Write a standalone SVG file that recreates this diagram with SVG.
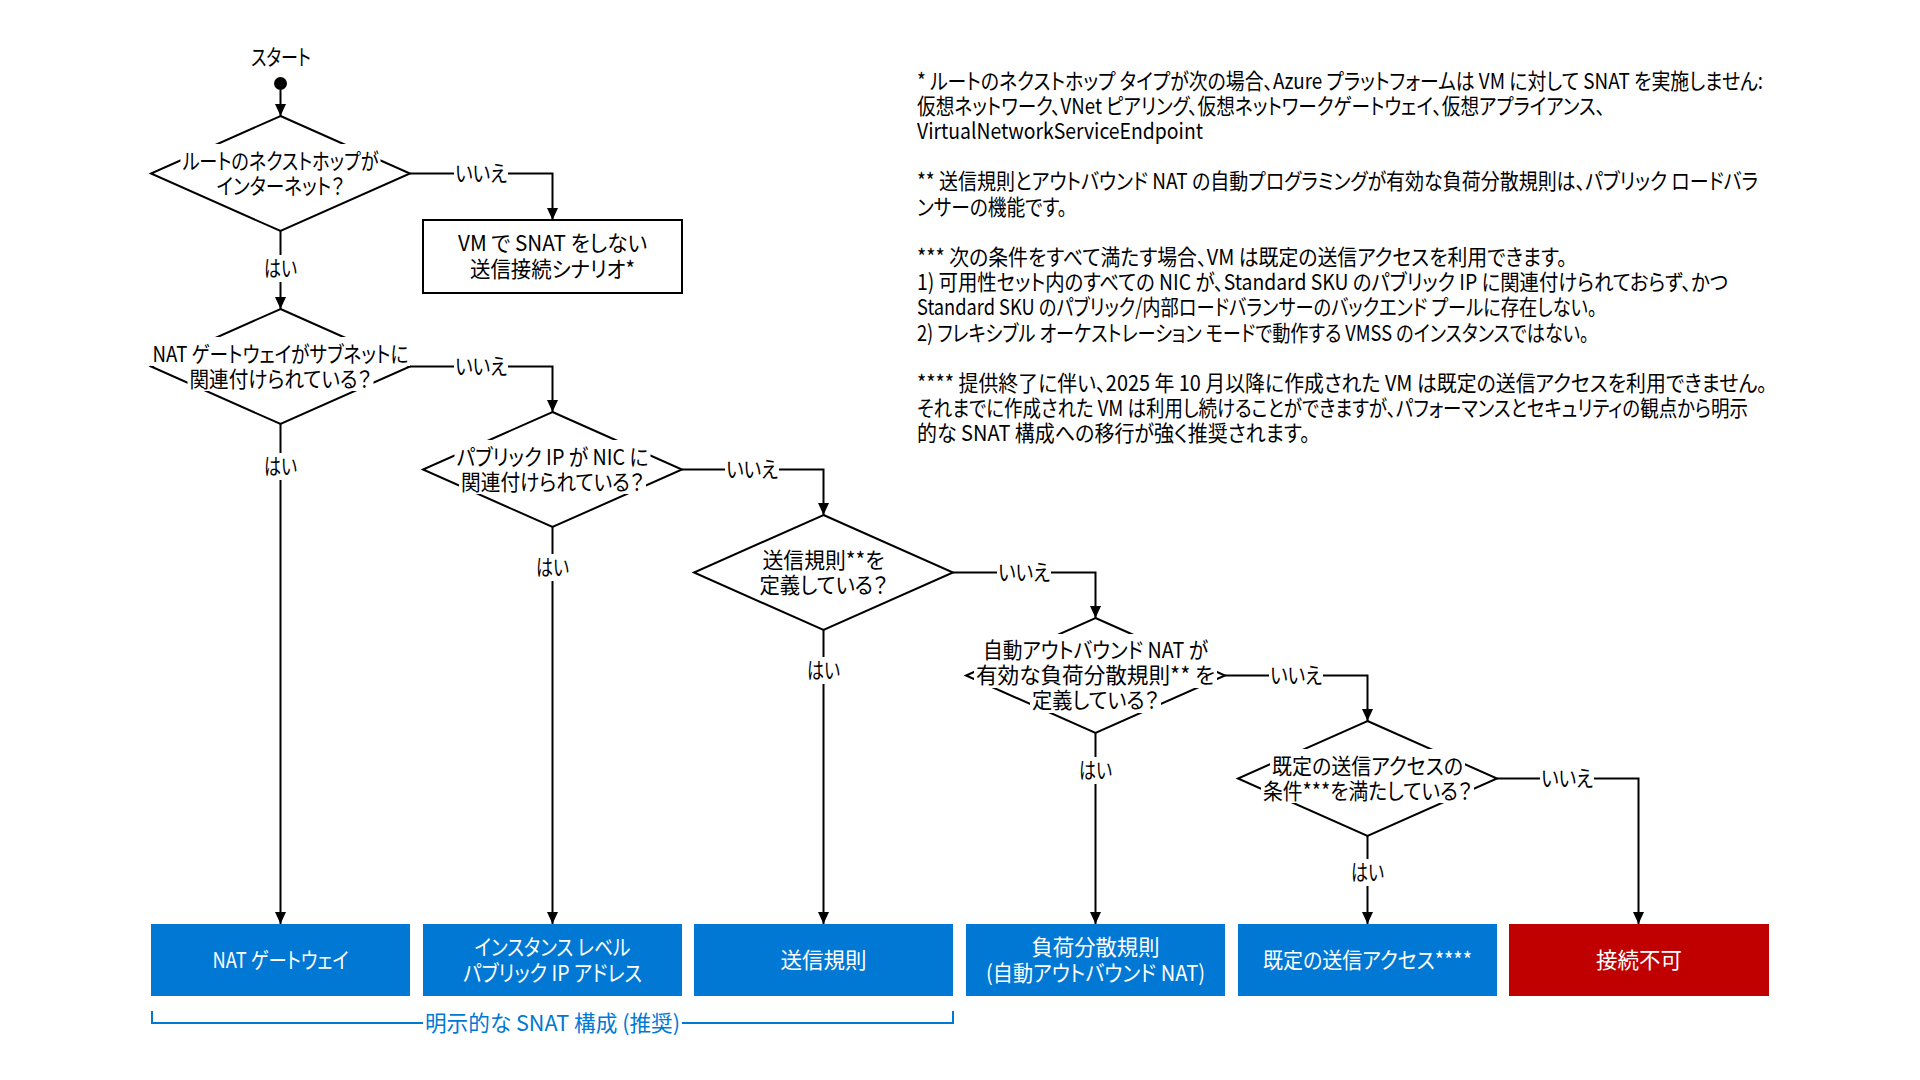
<svg xmlns="http://www.w3.org/2000/svg" width="1920" height="1080" viewBox="0 0 1920 1080">
  <style>
    text { font-family: "Noto Sans CJK JP", "Noto Sans", sans-serif; font-size: 22px; font-feature-settings: "palt" 1; fill: #000; }
    .c { text-anchor: middle; }
    .w { fill: #fff; }
    .note { text-anchor: start; }
    .diam { fill: #fff; stroke: #000; stroke-width: 2; stroke-linejoin: miter; }
    .bg { fill: #fff; stroke: none; }
    .plain { fill: #fff; stroke: #000; stroke-width: 2; }
    .blue { fill: #0078D4; }
    .red { fill: #C00000; }
    .conn { fill: none; stroke: #000; stroke-width: 2; marker-end: url(#arrow); }
    .brk { fill: none; stroke: #0078D4; stroke-width: 2; }
    .brklbl { fill: #0078D4; }
  </style>
  <defs>
    <marker id="arrow" markerUnits="userSpaceOnUse" markerWidth="12" markerHeight="12" viewBox="0 0 12 12" refX="12" refY="6" orient="auto">
      <path d="M0,0.5 L12,6 L0,11.5 z" fill="#000"/>
    </marker>
  </defs>

  <rect width="1920" height="1080" fill="#fff"/>

  <!-- start -->
  <g id="start">
    <text class="c" x="281" y="64.5" textLength="60" lengthAdjust="spacingAndGlyphs">スタート</text>
    <circle cx="280.5" cy="83.5" r="6.5" fill="#000"/>
  </g>

  <!-- decisions -->
  <g id="d1-next-hop">
    <polygon class="diam" points="280.5,116 410,173.5 280.5,231 151,173.5"/>
    <rect class="bg" x="180.5" y="144" width="200" height="29"/>
    <rect class="bg" x="214.5" y="169" width="132" height="29"/>
    <text class="c" x="280.5" y="168.5" textLength="196" lengthAdjust="spacingAndGlyphs">ルートのネクストホップが</text>
    <text class="c" x="280.5" y="193.5" textLength="128" lengthAdjust="spacingAndGlyphs">インターネット？</text>
  </g>

  <g id="d2-nat-gateway">
    <polygon class="diam" points="280.5,309 410,366.5 280.5,424 151,366.5"/>
    <rect class="bg" x="150.5" y="337" width="260" height="29"/>
    <rect class="bg" x="187.5" y="362" width="186" height="29"/>
    <text class="c" x="280.5" y="361.5" textLength="256" lengthAdjust="spacingAndGlyphs">NAT ゲートウェイがサブネットに</text>
    <text class="c" x="280.5" y="386.5" textLength="182" lengthAdjust="spacingAndGlyphs">関連付けられている？</text>
  </g>

  <g id="d3-public-ip">
    <polygon class="diam" points="552.5,412 682,469.5 552.5,527 423,469.5"/>
    <rect class="bg" x="454.5" y="440" width="196" height="29"/>
    <rect class="bg" x="459" y="465" width="187" height="29"/>
    <text class="c" x="552.5" y="464.5" textLength="192" lengthAdjust="spacingAndGlyphs">パブリック IP が NIC に</text>
    <text class="c" x="552.5" y="489.5" textLength="183" lengthAdjust="spacingAndGlyphs">関連付けられている？</text>
  </g>

  <g id="d4-outbound-rule">
    <polygon class="diam" points="823.5,515 953,572.5 823.5,630 694,572.5"/>
    <text class="c" x="823.5" y="567.5" textLength="122" lengthAdjust="spacingAndGlyphs">送信規則**を</text>
    <text class="c" x="823.5" y="592.5" textLength="128" lengthAdjust="spacingAndGlyphs">定義している？</text>
  </g>

  <g id="d5-lb-rule">
    <polygon class="diam" points="1095.5,618 1225,675.5 1095.5,733 966,675.5"/>
    <rect class="bg" x="981" y="634" width="229" height="29"/>
    <rect class="bg" x="974" y="659" width="243" height="29"/>
    <rect class="bg" x="1030" y="684" width="131" height="29"/>
    <text class="c" x="1095.5" y="658" textLength="225" lengthAdjust="spacingAndGlyphs">自動アウトバウンド NAT が</text>
    <text class="c" x="1095.5" y="683" textLength="239" lengthAdjust="spacingAndGlyphs">有効な負荷分散規則** を</text>
    <text class="c" x="1095.5" y="708" textLength="127" lengthAdjust="spacingAndGlyphs">定義している？</text>
  </g>

  <g id="d6-default-access">
    <polygon class="diam" points="1367.5,721 1497,778.5 1367.5,836 1238,778.5"/>
    <rect class="bg" x="1270" y="749" width="195" height="29"/>
    <rect class="bg" x="1261" y="774" width="213" height="29"/>
    <text class="c" x="1367.5" y="773.5" textLength="191" lengthAdjust="spacingAndGlyphs">既定の送信アクセスの</text>
    <text class="c" x="1367.5" y="798.5" textLength="209" lengthAdjust="spacingAndGlyphs">条件***を満たしている？</text>
  </g>

  <!-- outcomes -->
  <g id="no-snat-scenario">
    <rect class="plain" x="423" y="220" width="259" height="73"/>
    <text class="c" x="552.5" y="251" textLength="189" lengthAdjust="spacingAndGlyphs">VM で SNAT をしない</text>
    <text class="c" x="552.5" y="277" textLength="165" lengthAdjust="spacingAndGlyphs">送信接続シナリオ*</text>
  </g>

  <g id="nat-gateway">
    <rect class="blue" x="151" y="924" width="259" height="72"/>
    <text class="c w" x="280.5" y="967.5" textLength="136" lengthAdjust="spacingAndGlyphs">NAT ゲートウェイ</text>
  </g>

  <g id="instance-ip">
    <rect class="blue" x="423" y="924" width="259" height="72"/>
    <text class="c w" x="552.5" y="954.5" textLength="156" lengthAdjust="spacingAndGlyphs">インスタンス レベル</text>
    <text class="c w" x="552.5" y="980.5" textLength="179" lengthAdjust="spacingAndGlyphs">パブリック IP アドレス</text>
  </g>

  <g id="outbound-rules">
    <rect class="blue" x="694" y="924" width="259" height="72"/>
    <text class="c w" x="823.5" y="967.5" textLength="86" lengthAdjust="spacingAndGlyphs">送信規則</text>
  </g>

  <g id="lb-rules">
    <rect class="blue" x="966" y="924" width="259" height="72"/>
    <text class="c w" x="1095.5" y="954.5" textLength="128" lengthAdjust="spacingAndGlyphs">負荷分散規則</text>
    <text class="c w" x="1095.5" y="980.5" textLength="219" lengthAdjust="spacingAndGlyphs">(自動アウトバウンド NAT)</text>
  </g>

  <g id="default-access">
    <rect class="blue" x="1238" y="924" width="259" height="72"/>
    <text class="c w" x="1367.5" y="967.5" textLength="209" lengthAdjust="spacingAndGlyphs">既定の送信アクセス****</text>
  </g>

  <g id="no-connectivity">
    <rect class="red" x="1509" y="924" width="260" height="72"/>
    <text class="c w" x="1639" y="967.5" textLength="86" lengthAdjust="spacingAndGlyphs">接続不可</text>
  </g>

  <!-- connectors -->
  <g id="connectors">
    <path class="conn" d="M280.5,90 V116"/>
    <path class="conn" d="M280.5,231 V309"/>
    <path class="conn" d="M410,173.5 H552.5 V220"/>
    <path class="conn" d="M280.5,424 V924"/>
    <path class="conn" d="M410,366.5 H552.5 V412"/>
    <path class="conn" d="M552.5,527 V924"/>
    <path class="conn" d="M682,469.5 H823.5 V515"/>
    <path class="conn" d="M823.5,630 V924"/>
    <path class="conn" d="M953,572.5 H1095.5 V618"/>
    <path class="conn" d="M1095.5,733 V924"/>
    <path class="conn" d="M1225,675.5 H1367.5 V721"/>
    <path class="conn" d="M1367.5,836 V924"/>
    <path class="conn" d="M1497,778.5 H1638.5 V924"/>

    <g id="conn-labels">
      <rect class="bg" x="454" y="160" width="54" height="27"/>
      <text class="c" x="481" y="181" textLength="52" lengthAdjust="spacingAndGlyphs">いいえ</text>
      <rect class="bg" x="262" y="255" width="37" height="27"/>
      <text class="c" x="280.5" y="275.5" textLength="33" lengthAdjust="spacingAndGlyphs">はい</text>

      <rect class="bg" x="454" y="353" width="54" height="27"/>
      <text class="c" x="481" y="374" textLength="52" lengthAdjust="spacingAndGlyphs">いいえ</text>
      <rect class="bg" x="262" y="453" width="37" height="27"/>
      <text class="c" x="280.5" y="474" textLength="33" lengthAdjust="spacingAndGlyphs">はい</text>

      <rect class="bg" x="725" y="456" width="54" height="27"/>
      <text class="c" x="752" y="477" textLength="52" lengthAdjust="spacingAndGlyphs">いいえ</text>
      <rect class="bg" x="534" y="554" width="37" height="27"/>
      <text class="c" x="552.5" y="574.5" textLength="33" lengthAdjust="spacingAndGlyphs">はい</text>

      <rect class="bg" x="997" y="559" width="54" height="27"/>
      <text class="c" x="1024" y="580" textLength="52" lengthAdjust="spacingAndGlyphs">いいえ</text>
      <rect class="bg" x="805" y="657" width="37" height="27"/>
      <text class="c" x="823.5" y="677.5" textLength="33" lengthAdjust="spacingAndGlyphs">はい</text>

      <rect class="bg" x="1269" y="662" width="54" height="27"/>
      <text class="c" x="1296" y="683" textLength="52" lengthAdjust="spacingAndGlyphs">いいえ</text>
      <rect class="bg" x="1077" y="757" width="37" height="27"/>
      <text class="c" x="1095.5" y="777.5" textLength="33" lengthAdjust="spacingAndGlyphs">はい</text>

      <rect class="bg" x="1540" y="765" width="54" height="27"/>
      <text class="c" x="1567" y="786" textLength="52" lengthAdjust="spacingAndGlyphs">いいえ</text>
      <rect class="bg" x="1349" y="859" width="37" height="27"/>
      <text class="c" x="1367.5" y="879.5" textLength="33" lengthAdjust="spacingAndGlyphs">はい</text>
    </g>
  </g>

  <!-- recommended group bracket -->
  <g id="explicit-snat-bracket">
    <path class="brk" d="M152,1011 V1023 H953 V1011"/>
    <rect class="bg" x="423" y="1009" width="259" height="28"/>
    <text class="c brklbl" x="552.5" y="1030.5" textLength="255" lengthAdjust="spacingAndGlyphs">明示的な SNAT 構成 (推奨)</text>
  </g>

  <!-- footnotes -->
  <g id="footnotes">
    <text class="note" x="917" y="88.5" textLength="846" lengthAdjust="spacingAndGlyphs">* ルートのネクストホップ タイプが次の場合、Azure プラットフォームは VM に対して SNAT を実施しません:</text>
    <text class="note" x="917" y="113.7" textLength="688" lengthAdjust="spacingAndGlyphs">仮想ネットワーク、VNet ピアリング、仮想ネットワークゲートウェイ、仮想アプライアンス、</text>
    <text class="note" x="917" y="138.9" textLength="286" lengthAdjust="spacingAndGlyphs">VirtualNetworkServiceEndpoint</text>
    <text class="note" x="917" y="189.3" textLength="841" lengthAdjust="spacingAndGlyphs">** 送信規則とアウトバウンド NAT の自動プログラミングが有効な負荷分散規則は、パブリック ロードバラ</text>
    <text class="note" x="917" y="214.5" textLength="150" lengthAdjust="spacingAndGlyphs">ンサーの機能です。</text>
    <text class="note" x="917" y="264.9" textLength="650" lengthAdjust="spacingAndGlyphs">*** 次の条件をすべて満たす場合、VM は既定の送信アクセスを利用できます。</text>
    <text class="note" x="917" y="290.1" textLength="811" lengthAdjust="spacingAndGlyphs">1) 可用性セット内のすべての NIC が、Standard SKU のパブリック IP に関連付けられておらず、かつ</text>
    <text class="note" x="917" y="315.3" textLength="680" lengthAdjust="spacingAndGlyphs">Standard SKU のパブリック/内部ロードバランサーのバックエンド プールに存在しない。</text>
    <text class="note" x="917" y="340.5" textLength="672" lengthAdjust="spacingAndGlyphs">2) フレキシブル オーケストレーション モードで動作する VMSS のインスタンスではない。</text>
    <text class="note" x="917" y="390.9" textLength="850" lengthAdjust="spacingAndGlyphs">**** 提供終了に伴い、2025 年 10 月以降に作成された VM は既定の送信アクセスを利用できません。</text>
    <text class="note" x="917" y="416.1" textLength="831" lengthAdjust="spacingAndGlyphs">それまでに作成された VM は利用し続けることができますが、パフォーマンスとセキュリティの観点から明示</text>
    <text class="note" x="917" y="441.3" textLength="393" lengthAdjust="spacingAndGlyphs">的な SNAT 構成への移行が強く推奨されます。</text>
  </g>
</svg>
